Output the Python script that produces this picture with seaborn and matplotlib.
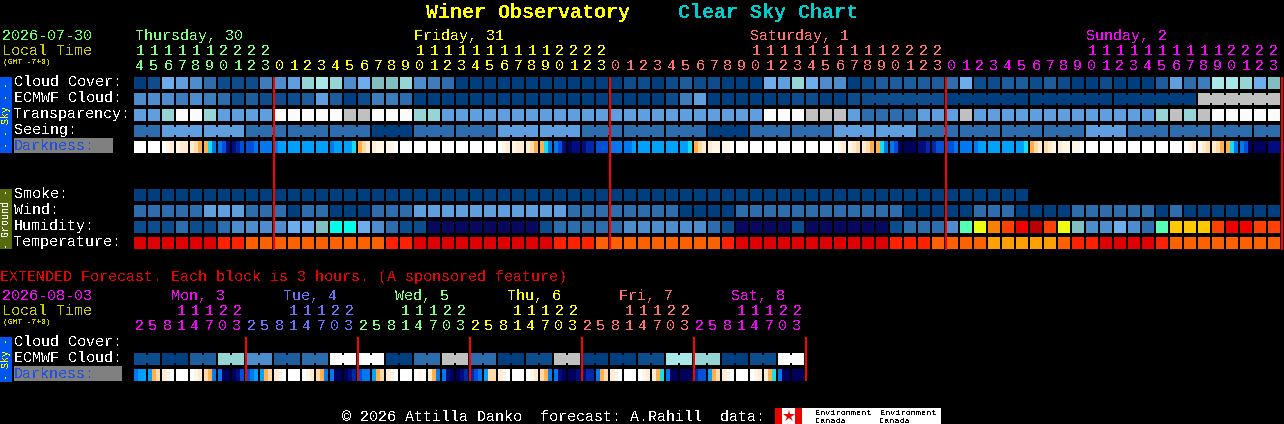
import numpy as np
import matplotlib
matplotlib.use("Agg")
import matplotlib.pyplot as plt
from matplotlib.colors import ListedColormap
from matplotlib.patches import Rectangle
import seaborn as sns

W, H = 1284, 424

# ---------- colour scale shared by the block rows ----------
palette = ["#003f7f", "#0d4d8d", "#1d5d9d", "#2d6dad", "#3d7dbd", "#4d8dcd", "#5f9fe0", "#6dadee",
           "#80bfbf", "#95d5d5", "#a8e8e8", "#fbfbfb", "#c0c0c0", "#08085f", "#00ffe8", "#55ffb4",
           "#eeff10", "#ffc800", "#ff8000", "#ff4000", "#ee0000", "#b80000", "#e00000", "#ff2000",
           "#ff6000", "#ffa000"]
dark_palette = ["#ffffff", "#fff6ea", "#ffebd2", "#ffd9a6", "#ffb04a", "#12e0f0", "#00a0ff", "#0078f0",
                "#0050d8", "#0028a8", "#000c80", "#00005c"]

# ---------- main forecast (one value per hour) ----------
cloud_cover = [0,1,7,6,5,3,1,1,1,4, 5,6,9,10,9,5,7,8,8,9, 5,4,3,0,0,0,0,0,0,0,
               0,0,0,0,0,1,1,0,1,2, 1,1,0,0,0,7,6,9,7,5, 5,0,1,2,2,2,2,2,3,7,
               1,1,2,2,1,2,1,0,0,1, 0,0,0,2,6,3,4,10,10,9, 7,8]
ecmwf_cloud = [5,5,5,4,5,4,3,1,2,1, 1,1,2,6,2,0,1,4,4,3, 0,0,0,0,0,0,0,0,0,0,
               0,0,0,0,0,0,0,0,1,4, 6,0,0,0,0,0,0,1,1,0, 0,1,1,1,1,1,1,1,0,0,
               0,0,0,0,0,0,0,0,0,0, 0,0,0,0,0,0,12,12,12,12, 12,12]
ecmwf_runs = [1]*52 + [6, 6, 6, 6, 6]
transparency = [6,6,9,11,11,9,6,6,6,6, 11,11,11,11,11,12,12,11,11,11, 9,9,6,6,6,6,6,6,6,6,
                6,6,6,6,6,6,6,6,6,6, 6,6,6,6,6,11,11,11,12,12, 12,6,3,3,3,3,6,6,6,12,
                6,6,6,6,6,6,6,6,6,6, 6,6,6,9,12,9,12,11,11,11, 11,11]
seeing_blocks = [3,6,6,3,3,3,0,3,3,6,6,3,3,3,0,3,3,6,6,3,3,3,3,6,3,3,3,3]
seeing_runs = [2] + [3]*26 + [2]
smoke = [0]*64 + [np.nan]*18
wind = [3,3,3,3,3,6,6,6,3,3, 3,0,3,3,0,0,0,3,3,3, 6,6,6,6,6,6,6,6,6,6,
        6,3,3,3,3,3,3,3,3,0, 0,0,0,3,3,3,3,3,3,3, 3,3,3,3,3,0,0,0,0,0,
        3,3,3,0,0,0,0,3,3,3, 3,3,3,0,3,0,0,0,0,0, 0,0]
humidity = [1,1,1,3,1,1,3,5,5,5, 5,7,7,8,14,14,7,5,3,1, 1,13,13,13,13,13,13,13,13,1,
            3,3,3,3,3,5,5,5,5,5, 5,3,1,13,13,13,13,1,13,13, 13,13,13,13,1,3,3,3,5,15,
            16,18,19,20,21,19,16,8,5,5, 7,5,3,15,17,17,17,19,20,20, 19,19]
temperature = [22,22,22,22,22,22,23,23,24,24, 24,24,24,24,24,24,24,24,23,23, 22,22,22,22,22,22,22,22,22,22,
               23,23,23,24,24,24,24,24,24,24, 24,24,23,22,22,22,22,22,22,22, 22,22,22,22,23,23,23,24,24,24,
               24,25,25,25,25,25,24,23,23,22, 22,22,22,23,24,24,24,24,24,24, 24,24]
# darkness: left / middle / right shade inside each hour block (hex digit = shade index)
darkness = ("000 000 012 122 234 457 78a a98 887 777 766 666 666 666 766 665 432 211 110 000 "
            "000 000 000 000 000 000 012 122 234 457 78a baa a99 888 777 776 666 666 666 665 "
            "432 211 110 000 000 000 000 000 000 000 012 123 234 457 78b bbb aa9 988 887 777 "
            "766 666 666 665 432 321 211 110 000 000 000 000 000 000 000 012 123 234 457 78b "
            "bbb aaa 998").split()

# ---------- extended forecast (one value per 6 hours / 3 hours) ----------
ext_ecmwf = [1,0,2,9,5,2,3,11,11,0,3,12,3,0,1,12,0,0,1,10,9,0,1,11]
ext_darkness = ("766 643 210 000 012 347 7bb ba8 "
                "876 643 210 000 012 347 7bb ba9 "
                "877 643 210 000 010 247 7ab ba9 "
                "987 633 210 000 012 347 7ab bba "
                "a99 743 210 000 012 245 7bb bbb "
                "988 643 210 000 012 245 7bb bbb").split()

# ---------- labels ----------
main_hours = [14,15,16,17,18,19,20,21,22,23] + list(range(24))*3
main_colors = ["#80ff80"]*10 + ["#ffff00"]*24 + ["#ff7070"]*24 + ["#ff00ff"]*24
main_days = ["Thursday, 30", "Friday, 31", "Saturday, 1", "Sunday, 2"]
main_day_x = [135, 414, 750, 1086]
main_day_colors = ["#80ff80", "#ffff00", "#ff7070", "#ff00ff"]
ext_hours = [2,5,8,11,14,17,20,23]*6
ext_days = ["Mon, 3", "Tue, 4", "Wed, 5", "Thu, 6", "Fri, 7", "Sat, 8"]
ext_day_colors = ["#ff00ff", "#7070ff", "#80ff80", "#ffff00", "#ff7070", "#ff00ff"]
main_labels = ["Cloud Cover:", "ECMWF Cloud:", "Transparency:", "Seeing:"]
ground_labels = ["Smoke:", "Wind:", "Humidity:", "Temperature:"]

sns.set_theme(style="dark")
plt.rcParams["font.family"] = ["Liberation Mono", "DejaVu Sans Mono"]
plt.rcParams["text.antialiased"] = False

fig = plt.figure(figsize=(W/100, H/100), dpi=100, facecolor="black")
cmap = ListedColormap(palette)
dark_cmap = ListedColormap(dark_palette)


def block_row(values, top, runs=None):
    """One row of spaced blocks; `runs` joins neighbouring blocks with a narrow neck."""
    vals = np.array(values, dtype=float)
    ax = fig.add_axes([133/W, 1-(top+13)/H, len(vals)*14/W, 14/H], facecolor="none")
    sns.heatmap(vals[None, :], ax=ax, cmap=cmap, vmin=-0.5, vmax=len(palette)-0.5, cbar=False,
                linewidths=1.44, linecolor="black", xticklabels=False, yticklabels=False, square=False)
    ax.set_axis_off()
    if runs is not None:
        start = 0
        for n in runs:
            for i in range(start, start+n-1):
                ax.bar(i+1, 8/14, width=2/14, bottom=3/14, color=palette[int(vals[i])],
                       zorder=5, linewidth=0, antialiased=False)
            start += n
    return ax


def shade_row(cells, top):
    """Darkness row: each block is a gap followed by three two-step shades."""
    rows = []
    for cell in cells:
        rows += [np.nan]
        for ch in cell:
            rows += [int(ch, 16)]*2
    ax = fig.add_axes([132/W, 1-(top+12)/H, len(rows)*2/W, 12/H], facecolor="none")
    sns.heatmap(np.array(rows)[None, :], ax=ax, cmap=dark_cmap, vmin=-0.5, vmax=len(dark_palette)-0.5,
                cbar=False, linewidths=0, xticklabels=False, yticklabels=False)
    ax.set_axis_off()
    return ax


block_row(cloud_cover, 77)
block_row(ecmwf_cloud, 93, ecmwf_runs)
block_row(transparency, 109)
block_row(np.repeat(seeing_blocks, seeing_runs), 125, seeing_runs)
shade_row(darkness, 141)
block_row(smoke, 189)
block_row(wind, 205)
block_row(humidity, 221)
block_row(temperature, 237)
block_row(np.repeat(ext_ecmwf, 2), 353, [2]*24)
shade_row(ext_darkness, 369)

# ---------- overlay for text, strips and day rules, in pixel units ----------
top = fig.add_axes([0, 0, 1, 1], zorder=10, facecolor="none")
top.set_xlim(0, W)
top.set_ylim(H, 0)
top.set_axis_off()


def txt(x, y, s, color="white", px=15, **kw):
    kw.setdefault("va", "baseline")
    top.text(x, y, s, color=color, fontsize=px*0.72, **kw)


def box(x, y, w, h, color, z=1):
    top.add_patch(Rectangle((x, y), w, h, facecolor=color, edgecolor="none", antialiased=False, zorder=z))


txt(426, 18, "Winer Observatory", "#ffff00", 20, fontweight="bold")
txt(678, 18, "Clear Sky Chart", "#00cccc", 20, fontweight="bold")

txt(2, 40, "2026-07-30", "#66ff66")
txt(2, 55, "Local Time", "#cccc00")
txt(3, 64, "(GMT -7+0)", "#cccc00", 8)
for name, x, c in zip(main_days, main_day_x, main_day_colors):
    txt(x, 40, name, c)
for i, (h, c) in enumerate(zip(main_hours, main_colors)):
    cx = 134 + 14*i + 6
    if h >= 10:
        txt(cx, 55, str(h // 10), c, ha="center")
    txt(cx, 70, str(h % 10), c, ha="center")

box(0, 77, 12, 76, "#0055ee")
txt(6, 115, "- - Sky - -", "#ffff00", 10, rotation=90, ha="center", va="center")
box(0, 189, 12, 60, "#556b0e")
txt(6, 219, "- Ground -", "white", 10, rotation=90, ha="center", va="center")
for y, s in zip([86, 102, 118, 134], main_labels):
    txt(14, y, s)
box(14, 138, 99, 15, "#808080")
txt(14, 150, "Darkness:", "#2050e0")
for y, s in zip([198, 214, 230, 246], ground_labels):
    txt(14, y, s)

for x in [273, 609, 945, 1281]:
    box(x, 77, 2, 173, "#ff0000", 3)

txt(0, 281, "EXTENDED Forecast. Each block is 3 hours. (A sponsored feature)", "#ee0000")
txt(2, 300, "2026-08-03", "#ff00ff")
txt(2, 315, "Local Time", "#cccc00")
txt(3, 324, "(GMT -7+0)", "#cccc00", 8)
for d, (name, c) in enumerate(zip(ext_days, ext_day_colors)):
    txt(171 + 112*d, 300, name, c)
    box(245 + 112*d, 337, 2, 44, "#ff0000", 3)
for i, h in enumerate(ext_hours):
    c = ext_day_colors[i // 8]
    cx = 134 + 14*i + 5
    if h >= 10:
        txt(cx, 315, str(h // 10), c, ha="center")
    txt(cx, 330, str(h % 10), c, ha="center")

box(0, 337, 12, 45, "#0055ee")
txt(6, 359, "- Sky -", "#ffff00", 10, rotation=90, ha="center", va="center")
for y, s in zip([346, 362], main_labels[:2]):
    txt(14, y, s)
box(14, 366, 108, 15, "#808080")
txt(14, 378, "Darkness:", "#2050e0")

txt(342, 421, "\u00a9 2026 Attilla Danko  forecast: A.Rahill  data:")
box(775, 408, 166, 16, "white")
box(775, 408, 7, 16, "#ee0000", 2)
box(795, 408, 7, 16, "#ee0000", 2)
top.plot([788.5], [415.5], marker="*", ms=9, color="#ee0000", mew=0, zorder=3)
for x in [815, 880]:
    txt(x, 415, "Environment", "black", 8.5)
    txt(x, 423, "Canada", "black", 8.5)

fig.savefig("out.png", dpi=100, facecolor="black")
